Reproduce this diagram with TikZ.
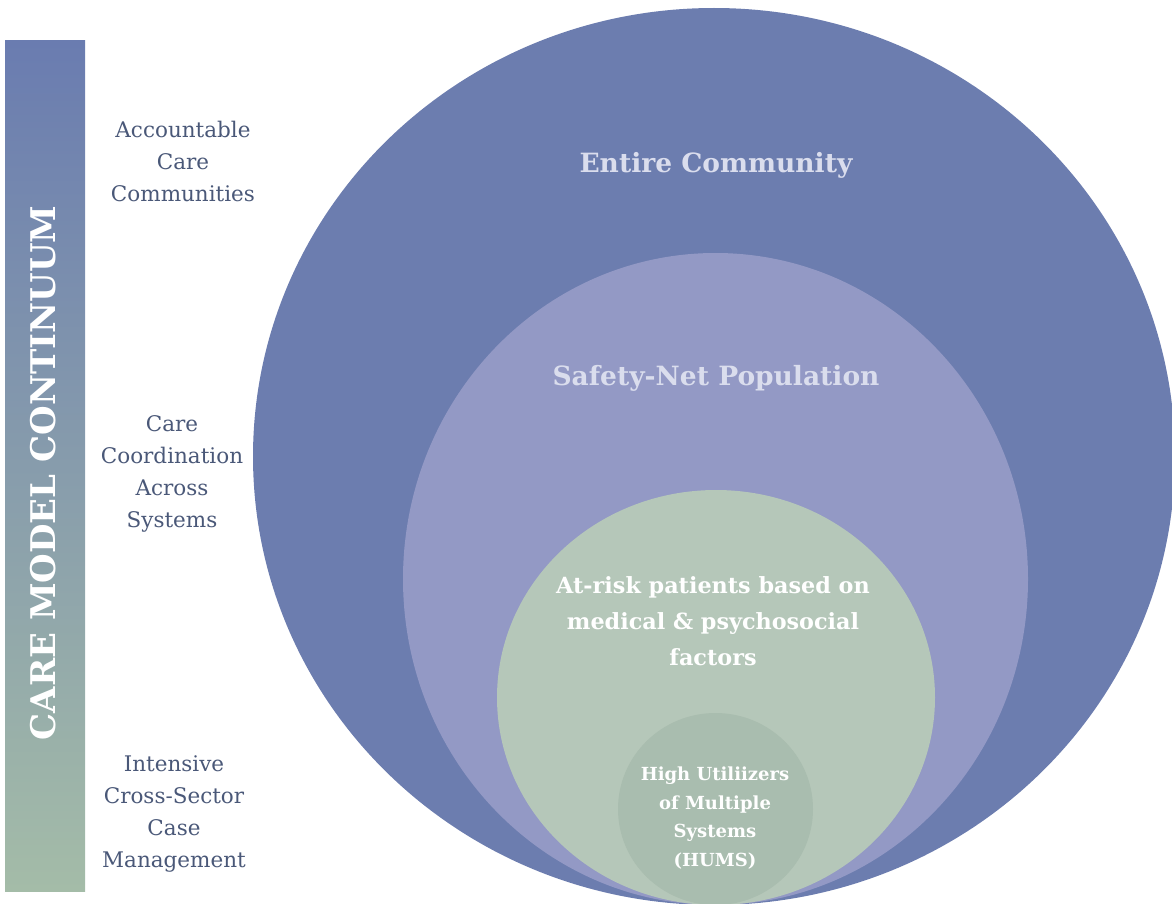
\documentclass[tikz,border=0pt]{standalone}
\usepackage{fontspec}
\setmainfont{DejaVu Serif}
\usetikzlibrary{shapes.geometric}

\definecolor{community}{RGB}{108,125,175}
\definecolor{safetynet}{RGB}{147,153,197}
\definecolor{atrisk}{RGB}{181,199,185}
\definecolor{hums}{RGB}{169,189,175}
\definecolor{barTop}{RGB}{106,124,176}
\definecolor{barBottom}{RGB}{164,188,168}
\definecolor{sideText}{RGB}{74,88,120}
\definecolor{ringText}{RGB}{218,221,237}

\begin{document}
\begin{tikzpicture}[x=1pt, y=-1pt,
        bar/.style={rectangle, inner sep=0pt, minimum width=80pt, minimum height=850pt, top color=barTop, bottom color=barBottom},
        ring/.style={ellipse, inner sep=0pt},
        side/.style={align=center, text=sideText, font=\fontsize{21.5}{32}\selectfont},
        ringlabel/.style={text=ringText, font=\bfseries\fontsize{26.5}{30}\selectfont},
        inner/.style={align=center, text=white, font=\bfseries\fontsize{22.3}{36}\selectfont},
        core/.style={align=center, text=white, font=\bfseries\fontsize{18}{28.5}\selectfont}
    ]
        \useasboundingbox (0,0) rectangle (1172,904);
        \clip (0,0) rectangle (1172,904);

        % Continuum bar
        \node[bar] (bar) at (45,466) {};
        \node[rotate=90, text=white, font=\bfseries\fontsize{34}{36}\selectfont] (continuum) at (43,473) {CARE MODEL CONTINUUM};

        % Side labels
        \node[side] (acc) at (183,161) {Accountable\\Care\\Communities};
        \node[side] (coord) at (172,474) {Care\\Coordination\\Across\\Systems};
        \node[side] (ccm) at (174,814) {Intensive\\Cross-Sector\\Case\\Management};

        % Rings
        \node[ring, fill=community, minimum width=922, minimum height=897] (entire) at (714,456.5) {};
        \node[ring, fill=safetynet, minimum width=625, minimum height=652] (safety) at (715.5,579) {};
        \node[ring, fill=atrisk, minimum width=438, minimum height=415] (risk) at (716,697.5) {};
        \node[ring, fill=hums, minimum width=195, minimum height=192] (high) at (715.5,809) {};

        % Ring labels
        \node[ringlabel] (entire-label) at (716,165) {Entire Community};
        \node[ringlabel] (safety-label) at (716,378) {Safety-Net Population};
        \node[inner] (risk-label) at (713,621) {At-risk patients based on\\medical \& psychosocial\\factors};
        \node[core] (high-label) at (715,818) {High Utiliizers\\of Multiple\\Systems\\(HUMS)};
    \end{tikzpicture}
\end{document}
